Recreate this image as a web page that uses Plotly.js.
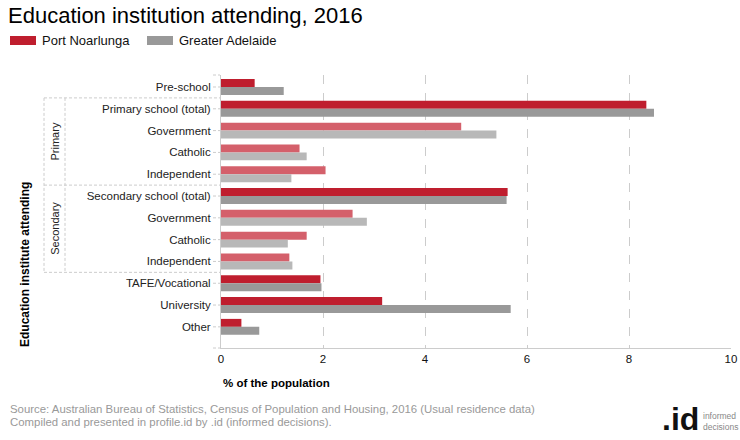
<!DOCTYPE html>
<html>
<head>
<meta charset="utf-8">
<script src="https://cdn.plot.ly/plotly-3.0.1.min.js"></script>
<style>
html,body{margin:0;padding:0;background:#fff;}
#chart{width:740px;height:440px;}
</style>
</head>
<body>
<div id="chart"></div>
<script>
// ---- data ----
const categories = ['Pre-school','Primary school (total)','Government','Catholic','Independent','Secondary school (total)','Government','Catholic','Independent','TAFE/Vocational','University','Other'];
const isSubcategory = [false,false,true,true,true,false,true,true,true,false,false,false];
const portNoarlunga = [0.66,8.34,4.71,1.54,2.05,5.62,2.58,1.68,1.34,1.95,3.16,0.40];
const greaterAdelaide = [1.23,8.49,5.40,1.68,1.38,5.60,2.86,1.31,1.40,1.97,5.68,0.75];
const seriesNames = ['Port Noarlunga','Greater Adelaide'];
const groupNames = ['Primary','Secondary'];
const groupRanges = [[1,4],[5,8]];
const xTicks = [0,2,4,6,8,10];

// ---- styles ----
const RED = '#BF1E2E', RED_L = '#D4606B', GRAY = '#999999', GRAY_L = '#B8B8B8';
const FONT = 'Arial, "Liberation Sans", sans-serif';
const L = 221, R = 9, T = 75, B = 92, W = 740, H = 440;
const pw = W - L - R;
const px = v => (v - L) / pw; // pixel x -> paper x
const py = v => (H - B - v) / (H - T - B); // pixel y -> paper y

const yIdx = categories.map((c, i) => i);

const traces = [
  {type:'bar', orientation:'h', name:seriesNames[0], y:yIdx, x:portNoarlunga,
   marker:{color:isSubcategory.map(s => s ? RED_L : RED)}, hoverinfo:'x'},
  {type:'bar', orientation:'h', name:seriesNames[1], y:yIdx, x:greaterAdelaide,
   marker:{color:isSubcategory.map(s => s ? GRAY_L : GRAY)}, hoverinfo:'x'}
];

const shapes = [];
const annotations = [];
const dash = {color:'#cccccc', width:1, dash:'3px,2px'};

// dashed category ticks
yIdx.forEach(i => shapes.push({type:'line', xref:'paper', yref:'y', x0:px(213), x1:px(220), y0:i, y1:i, line:dash}));
shapes.push({type:'line', xref:'paper', yref:'paper', x0:px(213), x1:px(220), y0:1, y1:1, line:dash});
shapes.push({type:'line', xref:'paper', yref:'paper', x0:px(213), x1:px(220), y0:0, y1:0, line:dash});

// group brackets
const bounds = [groupRanges[0][0]-0.5, groupRanges[1][0]-0.5, groupRanges[1][1]+0.5];
bounds.forEach(b => shapes.push({type:'line', xref:'paper', yref:'y', x0:px(44), x1:px(220), y0:b, y1:b, line:dash}));
[44, 65].forEach(xp => shapes.push({type:'line', xref:'paper', yref:'y', x0:px(xp), x1:px(xp), y0:bounds[0], y1:bounds[2], line:dash}));
groupRanges.forEach((g, k) => annotations.push({xref:'paper', yref:'y', x:px(55), y:(g[0]+g[1])/2, text:groupNames[k],
  textangle:-90, xanchor:'center', yanchor:'middle', showarrow:false, font:{family:FONT, size:11, color:'#222'}}));

// legend (manual)
shapes.push({type:'rect', xref:'paper', yref:'paper', x0:px(10), x1:px(36), y0:py(36), y1:py(45), fillcolor:RED, line:{width:0}});
shapes.push({type:'rect', xref:'paper', yref:'paper', x0:px(147), x1:px(173), y0:py(36), y1:py(45), fillcolor:GRAY, line:{width:0}});
annotations.push({xref:'paper', yref:'paper', x:px(40), y:py(40.5), xanchor:'left', yanchor:'middle', showarrow:false,
  text:seriesNames[0], font:{family:FONT, size:13, color:'#111'}});
annotations.push({xref:'paper', yref:'paper', x:px(177), y:py(40.5), xanchor:'left', yanchor:'middle', showarrow:false,
  text:seriesNames[1], font:{family:FONT, size:13, color:'#111'}});

// axis titles
annotations.push({xref:'paper', yref:'paper', x:px(25), y:py(265), textangle:-90, xanchor:'center', yanchor:'middle', showarrow:false,
  text:'<b>Education institute attending</b>', font:{family:FONT, size:12, color:'#000'}});
annotations.push({xref:'paper', yref:'paper', x:px(221), y:py(383), xanchor:'left', yanchor:'middle', showarrow:false,
  text:'<b>% of the population</b>', font:{family:FONT, size:11.5, color:'#000'}});

// source
annotations.push({xref:'paper', yref:'paper', x:px(8), y:py(409), xanchor:'left', yanchor:'middle', showarrow:false,
  text:'Source: Australian Bureau of Statistics, Census of Population and Housing, 2016 (Usual residence data)',
  font:{family:FONT, size:11.4, color:'#999'}});
annotations.push({xref:'paper', yref:'paper', x:px(8), y:py(422), xanchor:'left', yanchor:'middle', showarrow:false,
  text:'Compiled and presented in profile.id by .id (informed decisions).',
  font:{family:FONT, size:11.4, color:'#999'}});

// logo
annotations.push({xref:'paper', yref:'paper', x:px(701), y:py(419), xanchor:'right', yanchor:'middle', showarrow:false,
  text:'<b>.id</b>', font:{family:FONT, size:32, color:'#111'}});
annotations.push({xref:'paper', yref:'paper', x:px(701), y:py(421), xanchor:'left', yanchor:'middle', showarrow:false, align:'left',
  text:'informed<br>decisions', font:{family:FONT, size:8.5, color:'#888'}});

const layout = {
  width:W, height:H,
  margin:{l:L, r:R, t:T, b:B, pad:0},
  paper_bgcolor:'#fff', plot_bgcolor:'#fff',
  title:{text:'Education institution attending, 2016', x:8/W, xref:'container', xanchor:'left',
    y:1 - 15/H, yref:'container', yanchor:'middle',
    font:{family:FONT, size:22, color:'#000'}},
  showlegend:false,
  barmode:'group', bargap:0.27, bargroupgap:0,
  xaxis:{range:[0,10], tickvals:xTicks, showgrid:true, gridcolor:'#cccccc', griddash:'dash',
    showline:true, linecolor:'#cccccc', zeroline:false, ticks:'', fixedrange:true,
    tickfont:{family:FONT, size:11.5, color:'#111'}},
  yaxis:{range:[11.97,-0.55], tickvals:yIdx, ticktext:categories, showgrid:false, zeroline:false,
    showline:true, linecolor:'#cccccc', ticks:'outside', ticklen:7, tickcolor:'rgba(0,0,0,0)',
    tickfont:{family:FONT, size:11.5, color:'#222'}, fixedrange:true},
  shapes:shapes,
  annotations:annotations
};

Plotly.newPlot('chart', traces, layout, {displayModeBar:false, staticPlot:true});
</script>
</body>
</html>
